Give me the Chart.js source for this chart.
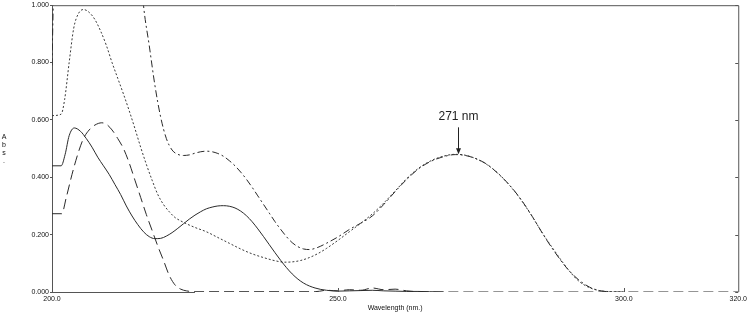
<!DOCTYPE html>
<html>
<head>
<meta charset="utf-8">
<script src="https://cdn.jsdelivr.net/npm/chart.js@4/dist/chart.umd.min.js"></script>
<style>
html,body{margin:0;padding:0;background:#fff;}
#wrap{width:750px;height:313px;position:relative;}
</style>
</head>
<body>
<div id="wrap"><canvas id="c" width="750" height="313"></canvas></div>
<script>
// ---- data ----
const xTicks = [200, 250, 300, 320];
const yTicks = [0, 0.2, 0.4, 0.6, 0.8, 1.0];

const solidWl  = [200,201.6,202.3,203,203.9,205,206,207,208,209,210,211,212,213,214,215,216,217,218,219,220,221,222,223,224,225,226,227,228,229,230,231,232,233,234,235,236,237,238,239,240,241,242,243,244,245,246,247,248,249,250,252,254,256,258,260,262,264,266,268.5];
const solidAbs = [0.44,0.44,0.48,0.545,0.572,0.56,0.535,0.505,0.47,0.44,0.41,0.375,0.34,0.30,0.265,0.235,0.21,0.193,0.186,0.187,0.195,0.207,0.222,0.238,0.254,0.268,0.28,0.29,0.296,0.30,0.301,0.299,0.293,0.282,0.266,0.245,0.22,0.193,0.165,0.137,0.11,0.085,0.063,0.045,0.031,0.021,0.014,0.009,0.006,0.004,0.003,0.004,0.005,0.006,0.004,0.003,0.002,0.002,0.001,0];

const longWl  = [200,201.7,202.5,203.5,204.5,205.5,206.5,207.5,208.7,209.5,210.5,211.5,212.5,213.5,214.5,215.5,216.5,217.5,218.5,219.5,220.5,221.5,222.5,223.5,225,246,248,250,252,254,256,258,260,262,264,266,320];
const longAbs = [0.273,0.273,0.33,0.41,0.48,0.535,0.565,0.582,0.59,0.585,0.565,0.535,0.50,0.45,0.39,0.33,0.27,0.215,0.16,0.11,0.058,0.025,0.01,0.004,0.001,0.001,0.006,0.004,0.008,0.006,0.014,0.008,0.01,0.004,0.001,0,0];

const dotWl  = [200,201.6,202.2,203,203.8,204.6,205.5,206.5,207.5,208.5,209.5,210.5,211.5,212.5,213.5,214.5,215.5,216.5,217.5,218.5,219.5,220.5,221.5,222.5,223.5,225,227,229,231,233,235,237,239,240.7,242,243.5,245,246.5,248,250,252,254,256,258,260,262,264,266,268,270.5,272,274,276,278,280,282,284,286,288,290,292,294,296,298,300];
const dotAbs = [0.615,0.62,0.67,0.80,0.92,0.97,0.985,0.975,0.95,0.91,0.86,0.80,0.745,0.69,0.632,0.57,0.505,0.445,0.39,0.34,0.305,0.28,0.26,0.248,0.238,0.225,0.21,0.19,0.17,0.15,0.133,0.12,0.109,0.104,0.105,0.11,0.12,0.134,0.152,0.18,0.21,0.24,0.272,0.31,0.352,0.395,0.43,0.455,0.471,0.48,0.478,0.466,0.445,0.414,0.372,0.322,0.262,0.198,0.14,0.085,0.04,0.015,0.004,0.001,0];

const dashDotWl  = [200,200.3,200.6,214,215,216,217,218,219,220,221,222,223,224,225,226,227,228,229,230,231,232,233,234,235,236,237,238,239,240,241,242,243,244,245,246,247,248,250,252,254,256,258,260,262,264,266,268,270.5,272,274,276,278,280,282,284,286,288,290,292,294,296,298];
const dashDotAbs = [0.79,1.1,1.5,1.5,1.25,1.0,0.86,0.72,0.61,0.535,0.495,0.48,0.476,0.478,0.484,0.489,0.491,0.489,0.483,0.473,0.458,0.44,0.418,0.393,0.365,0.335,0.305,0.275,0.245,0.218,0.193,0.172,0.158,0.15,0.148,0.152,0.16,0.17,0.192,0.218,0.24,0.265,0.305,0.35,0.392,0.428,0.453,0.469,0.479,0.477,0.466,0.446,0.413,0.373,0.323,0.263,0.197,0.137,0.084,0.044,0.017,0.004,0];

const peakLabel = { wavelength: 271, absorbance: 0.48, text: '271 nm' };
const yTitleLetters = ['A', 'b', 's', '.'];

// ---- helpers ----
function pts(xs, ys){ return xs.map((x,i)=>({x:x, y:ys[i]})); }
const lineColor = '#2a2a2a';
const axisColor = '#555';
const textColor = '#111';
const FONT = "'Liberation Sans', Arial, sans-serif";

const overlay = {
  id: 'overlay',
  afterDatasetsDraw(chart){
    const ctx = chart.ctx, a = chart.chartArea;
    const xs = chart.scales.x, ys = chart.scales.y;
    ctx.save();
    ctx.strokeStyle = axisColor;
    ctx.lineWidth = 1;
    // top and right borders
    ctx.beginPath();
    ctx.moveTo(a.left, a.top + 0.5);
    ctx.lineTo(a.right + 0.5, a.top + 0.5);
    ctx.lineTo(a.right + 0.5, a.bottom);
    ctx.stroke();
    // bottom axis (solid part)
    ctx.beginPath();
    ctx.moveTo(a.left, a.bottom + 0.5);
    ctx.lineTo(xs.getPixelForValue(225), a.bottom + 0.5);
    ctx.stroke();
    // x tick marks pointing up
    ctx.beginPath();
    [250, 300].forEach(v => {
      const px = Math.round(xs.getPixelForValue(v)) + 0.5;
      ctx.moveTo(px, a.bottom); ctx.lineTo(px, a.bottom - 4);
    });
    // right border ticks
    yTicks.forEach(v => {
      const py = Math.round(ys.getPixelForValue(v)) + 0.5;
      ctx.moveTo(a.right, py); ctx.lineTo(a.right - 3, py);
    });
    ctx.stroke();

    // peak annotation
    const px = Math.round(xs.getPixelForValue(peakLabel.wavelength)) + 0.5;
    const py = ys.getPixelForValue(peakLabel.absorbance);
    ctx.strokeStyle = '#222';
    ctx.fillStyle = '#222';
    ctx.beginPath();
    ctx.moveTo(px, py - 27);
    ctx.lineTo(px, py - 3);
    ctx.stroke();
    ctx.beginPath();
    ctx.moveTo(px - 2.5, py - 6);
    ctx.lineTo(px + 2.5, py - 6);
    ctx.lineTo(px, py);
    ctx.closePath();
    ctx.fill();
    ctx.font = '12px ' + FONT;
    ctx.textAlign = 'center';
    ctx.textBaseline = 'middle';
    ctx.fillText(peakLabel.text, px, py - 38);

    // y title, stacked letters
    ctx.fillStyle = textColor;
    ctx.font = '7px ' + FONT;
    yTitleLetters.forEach((ch, i) => {
      ctx.fillText(ch, 4, 137 + i * 8);
    });
    ctx.restore();
  }
};

new Chart(document.getElementById('c'), {
  type: 'line',
  data: {
    datasets: [
      { data: pts(solidWl, solidAbs), borderColor: lineColor, borderWidth: 1, borderDash: [] },
      { data: pts(longWl, longAbs), borderColor: lineColor, borderWidth: 1, borderDash: [10, 5] },
      { data: pts(dotWl, dotAbs), borderColor: '#3a3a3a', borderWidth: 1, borderDash: [2, 2] },
      { data: pts(dashDotWl, dashDotAbs), borderColor: lineColor, borderWidth: 1, borderDash: [7, 3, 2, 3] }
    ]
  },
  options: {
    responsive: false,
    animation: false,
    events: [],
    layout: { padding: { top: 4, right: 7, left: 0, bottom: 0 } },
    elements: {
      point: { radius: 0 },
      line: { tension: 0.4, cubicInterpolationMode: 'monotone', fill: false }
    },
    plugins: { legend: { display: false }, tooltip: { enabled: false } },
    scales: {
      x: {
        type: 'linear', min: 200, max: 320,
        afterBuildTicks: s => { s.ticks = xTicks.map(v => ({ value: v })); },
        afterFit: s => { s.height = 21; },
        grid: { drawOnChartArea: false, drawTicks: false },
        border: { display: false },
        ticks: { callback: v => Number(v).toFixed(1), font: { size: 7, family: FONT }, color: textColor, padding: 3, maxRotation: 0, autoSkip: false },
        title: { display: true, text: 'Wavelength (nm.)', font: { size: 7, family: FONT }, color: textColor, padding: { top: 0, bottom: 1 } }
      },
      y: {
        min: 0, max: 1,
        afterBuildTicks: s => { s.ticks = yTicks.map(v => ({ value: v })); },
        afterFit: s => { s.width = 52; },
        grid: { drawOnChartArea: false, drawTicks: true, tickLength: 2, color: axisColor },
        border: { display: true, color: axisColor },
        ticks: { callback: v => Number(v).toFixed(3), font: { size: 7, family: FONT }, color: textColor, padding: 1 }
      }
    }
  },
  plugins: [overlay]
});
</script>
</body>
</html>
